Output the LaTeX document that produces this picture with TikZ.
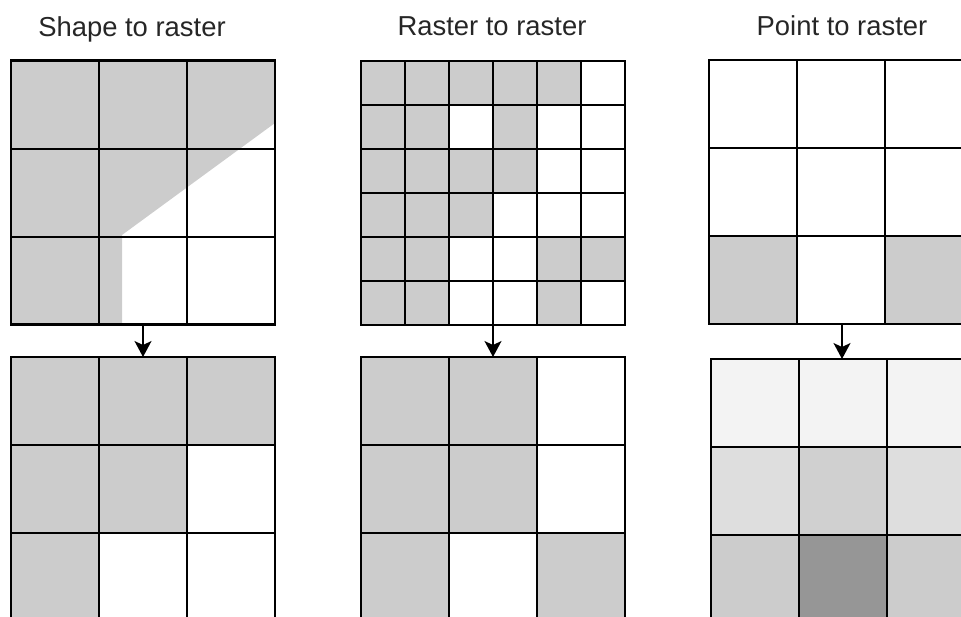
\documentclass[tikz,border=0pt]{standalone}
\usepackage{fontspec}
\setmainfont{Liberation Sans}
\usetikzlibrary{arrows.meta, positioning}
\definecolor{cellGray}{RGB}{204, 204, 204}
\definecolor{pointFaint}{RGB}{243, 243, 243}
\definecolor{pointLight}{RGB}{222, 222, 222}
\definecolor{pointMid}{RGB}{208, 208, 208}
\definecolor{pointDark}{RGB}{150, 150, 150}

\begin{document}
\begin{tikzpicture}[x=0.02cm, y=-0.02cm,
    gridline/.style={line width=1.2pt, black},
    gridbox/.style={draw, line width=1.2pt, inner sep=0pt, outer sep=0pt, minimum size=5.28cm},
    flow/.style={-{Stealth[length=0.32cm, width=0.34cm, inset=0.08cm]}, line width=0.9pt},
    title/.style={anchor=base, font=\fontsize{15.6}{18}\selectfont, text=black!85}]
            \useasboundingbox (0,0) rectangle (961,617);
            \clip (0,0) rectangle (961,617);

            % Titles
            \node[title] (shapeTitle) at (132,37) {Shape to raster};
            \node[title] (rasterTitle) at (492,36) {Raster to raster};
            \node[title] (pointTitle) at (842,36) {Point to raster};

            % Shape to raster: polygon over a 3x3 grid
            \fill[cellGray] (11,61) -- (275,61) -- (275,123) -- (122,235) -- (122,324) -- (11,324) -- cycle;
            \foreach \i in {1,2} {
                \draw[gridline] (11+88*\i,61) -- ++(0,263);
                \draw[gridline] (11,61+88*\i) -- ++(264,0);
            }
            \node[gridbox] (shapeIn) at (143,192.5) {};

            % Shape to raster: result
            \foreach \c/\r in {0/0, 1/0, 2/0, 0/1, 1/1, 0/2}
                \fill[cellGray] (11+88*\c,357+88*\r) rectangle ++(88,88);
            \foreach \i in {1,2} {
                \draw[gridline] (11+88*\i,357) -- ++(0,264);
                \draw[gridline] (11,357+88*\i) -- ++(264,0);
            }
            \node[gridbox] (shapeOut) at (143,489) {};

            % Raster to raster: fine 6x6 grid
            \foreach \c/\r in {0/0, 1/0, 2/0, 3/0, 4/0,
                               0/1, 1/1, 3/1,
                               0/2, 1/2, 2/2, 3/2,
                               0/3, 1/3, 2/3,
                               0/4, 1/4, 4/4, 5/4,
                               0/5, 1/5, 4/5}
                \fill[cellGray] (361+44*\c,61+44*\r) rectangle ++(44,44);
            \foreach \i in {1,...,5} {
                \draw[gridline] (361+44*\i,61) -- ++(0,264);
                \draw[gridline] (361,61+44*\i) -- ++(264,0);
            }
            \node[gridbox] (rasterIn) at (493,193) {};

            % Raster to raster: coarse result
            \foreach \c/\r in {0/0, 1/0, 0/1, 1/1, 0/2, 2/2}
                \fill[cellGray] (361+88*\c,357+88*\r) rectangle ++(88,88);
            \foreach \i in {1,2} {
                \draw[gridline] (361+88*\i,357) -- ++(0,264);
                \draw[gridline] (361,357+88*\i) -- ++(264,0);
            }
            \node[gridbox] (rasterOut) at (493,489) {};

            % Point to raster: points
            \foreach \c/\r in {0/2, 2/2}
                \fill[cellGray] (709+88*\c,60+88*\r) rectangle ++(88,88);
            \foreach \i in {1,2} {
                \draw[gridline] (709+88*\i,60) -- ++(0,264);
                \draw[gridline] (709,60+88*\i) -- ++(264,0);
            }
            \node[gridbox] (pointIn) at (841,192) {};

            % Point to raster: density result
            \fill[pointFaint] (711,359) rectangle ++(264,88);
            \fill[pointLight] (711,447) rectangle ++(264,88);
            \fill[pointMid] (799,447) rectangle ++(88,88);
            \fill[cellGray] (711,535) rectangle ++(264,88);
            \fill[pointDark] (799,535) rectangle ++(88,88);
            \foreach \i in {1,2} {
                \draw[gridline] (711+88*\i,359) -- ++(0,264);
                \draw[gridline] (711,359+88*\i) -- ++(264,0);
            }
            \node[gridbox] (pointOut) at (843,491) {};

            % Arrows
            \draw[flow] (shapeIn) -- (shapeOut);
            \draw[flow] (rasterIn) -- (rasterOut);
            \draw[flow] (pointIn.south -| 842,0) -- (pointOut.north -| 842,0);
        \end{tikzpicture}
\end{document}
